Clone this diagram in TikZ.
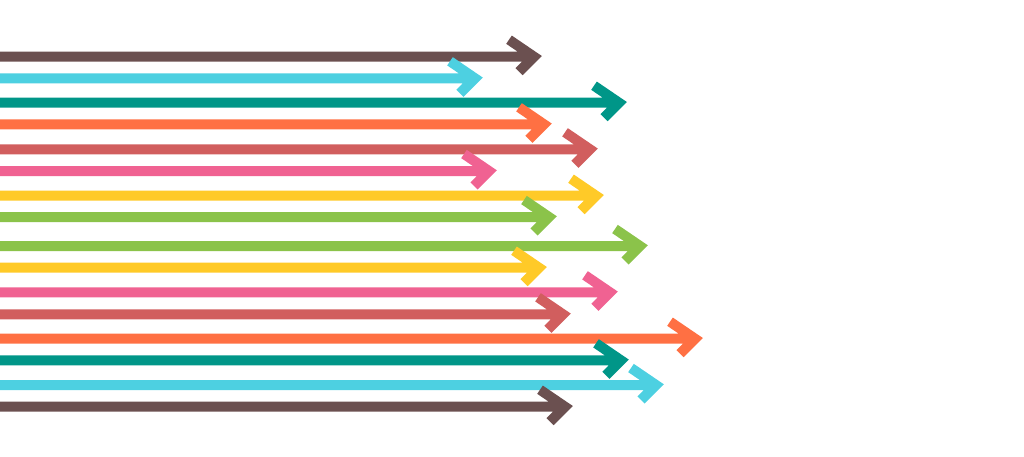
\documentclass[tikz,border=0pt]{standalone}
\usepackage{tikz}
\usepackage{xcolor}
\definecolor{br}{RGB}{107,80,80}
\definecolor{cy}{RGB}{77,208,225}
\definecolor{tl}{RGB}{0,150,136}
\definecolor{or}{RGB}{255,112,67}
\definecolor{rd}{RGB}{209,94,94}
\definecolor{pk}{RGB}{240,98,146}
\definecolor{yl}{RGB}{255,202,40}
\definecolor{gr}{RGB}{139,195,74}

\begin{document}
\begin{tikzpicture}[x=1pt,y=-1pt,stripe/.style={line width=10pt,line join=miter}]
        \useasboundingbox (0,0) rectangle (1024,456);
        \draw[stripe,br] (0,56.7) -- (534,56.7) ++(-25,-17) -- ++(25,17) -- ++(-15,15);
        \draw[stripe,cy] (0,78.3) -- (475,78.3) ++(-25,-17) -- ++(25,17) -- ++(-15,15);
        \draw[stripe,tl] (0,102.7) -- (619,102.7) ++(-25,-17) -- ++(25,17) -- ++(-15,15);
        \draw[stripe,or] (0,124.3) -- (544,124.3) ++(-25,-17) -- ++(25,17) -- ++(-15,15);
        \draw[stripe,rd] (0,149.3) -- (590,149.3) ++(-25,-17) -- ++(25,17) -- ++(-15,15);
        \draw[stripe,pk] (0,171) -- (489,171) ++(-25,-17) -- ++(25,17) -- ++(-15,15);
        \draw[stripe,yl] (0,195.7) -- (596,195.7) ++(-25,-17) -- ++(25,17) -- ++(-15,15);
        \draw[stripe,gr] (0,217) -- (549,217) ++(-25,-17) -- ++(25,17) -- ++(-15,15);
        % lower half
        \draw[stripe,gr] (0,246) -- (640,246) ++(-25,-17) -- ++(25,17) -- ++(-15,15);
        \draw[stripe,yl] (0,267.7) -- (539,267.7) ++(-25,-17) -- ++(25,17) -- ++(-15,15);
        \draw[stripe,pk] (0,292.3) -- (610,292.3) ++(-25,-17) -- ++(25,17) -- ++(-15,15);
        \draw[stripe,rd] (0,314.3) -- (563,314.3) ++(-25,-17) -- ++(25,17) -- ++(-15,15);
        \draw[stripe,or] (0,338.7) -- (695,338.7) ++(-25,-17) -- ++(25,17) -- ++(-15,15);
        \draw[stripe,tl] (0,360.3) -- (621,360.3) ++(-25,-17) -- ++(25,17) -- ++(-15,15);
        \draw[stripe,cy] (0,385) -- (656,385) ++(-25,-17) -- ++(25,17) -- ++(-15,15);
        \draw[stripe,br] (0,406.7) -- (565,406.7) ++(-25,-17) -- ++(25,17) -- ++(-15,15);
\end{tikzpicture}
\end{document}
